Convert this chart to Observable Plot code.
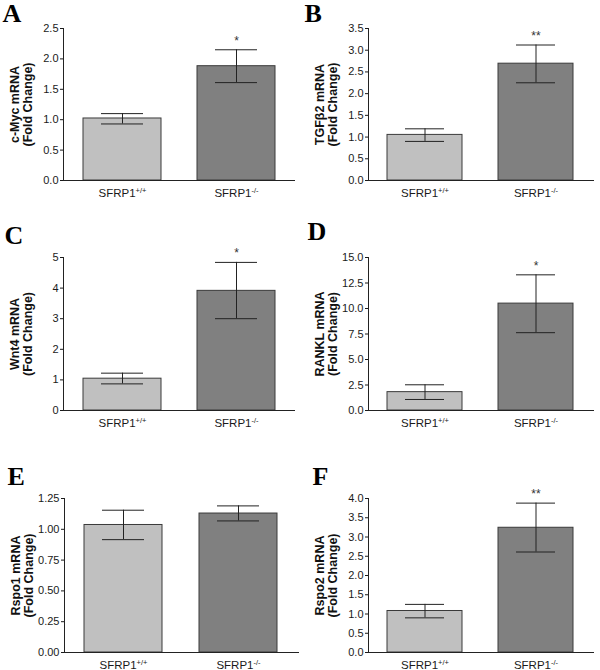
<!DOCTYPE html>
<html><head><meta charset="utf-8">
<script src="https://cdn.jsdelivr.net/npm/d3@7"></script>
<script src="https://cdn.jsdelivr.net/npm/@observablehq/plot@0.6"></script>
<style>
body{margin:0;background:#fff;}
#chart{position:relative;width:600px;height:670px;background:#fff;}
#chart > div{position:absolute;}
</style></head><body><div id="chart"></div>
<script>
// ---- data ----
const genotypes = ["SFRP1+/+", "SFRP1-/-"];
const panelLetters = ["A", "B", "C", "D", "E", "F"];
const genes = ["c-Myc", "TGFβ2", "Wnt4", "RANKL", "Rspo1", "Rspo2"];
const meanValues = [[1.02, 1.88], [1.05, 2.69], [1.04, 3.91], [1.80, 10.48], [1.035, 1.128], [1.078, 3.24]];
const errLower  = [[0.93, 1.61], [0.90, 2.25], [0.87, 3.00], [1.08, 7.63], [0.916, 1.068], [0.90, 2.61]];
const errUpper  = [[1.10, 2.15], [1.19, 3.12], [1.22, 4.84], [2.52, 13.3], [1.155, 1.19], [1.25, 3.88]];
const significance = [["", "*"], ["", "**"], ["", "*"], ["", "*"], ["", ""], ["", "**"]];
const yMax = [2.5, 3.5, 5, 15, 1.25, 4.0];
const yTicks = [
  [0, 0.5, 1.0, 1.5, 2.0, 2.5],
  [0, 0.5, 1.0, 1.5, 2.0, 2.5, 3.0, 3.5],
  [0, 1, 2, 3, 4, 5],
  [0, 2.5, 5.0, 7.5, 10.0, 12.5, 15.0],
  [0, 0.25, 0.50, 0.75, 1.00, 1.25],
  [0, 0.5, 1.0, 1.5, 2.0, 2.5, 3.0, 3.5, 4.0]
];
const yTickFormat = [".1f", ".1f", "d", ".1f", ".2f", ".1f"];
const barColors = ["#c0c0c0", "#808080"];

// ---- layout (page placement of each panel) ----
const layout = [
  {left: 0,   top: 0,   mL: 63, mT: 28, mB: 45, mR: 6, lx: 2,  lb: 21},
  {left: 300, top: 0,   mL: 68, mT: 28, mB: 45, mR: 7, lx: 4,  lb: 21},
  {left: 0,   top: 225, mL: 63, mT: 32, mB: 40, mR: 6, lx: 4,  lb: 18},
  {left: 300, top: 225, mL: 68, mT: 32, mB: 40, mR: 7, lx: 7,  lb: 14},
  {left: 0,   top: 445, mL: 64, mT: 53, mB: 18, mR: 2, lx: 7,  lb: 39},
  {left: 300, top: 445, mL: 68, mT: 53, mB: 18, mR: 7, lx: 12, lb: 39}
];

const chart = document.getElementById("chart");
const font = "Liberation Sans, Arial, Helvetica, sans-serif";

genes.forEach((gene, i) => {
  const L = layout[i];
  const rows = genotypes.map((g, j) => ({
    genotype: g, mean: meanValues[i][j], lo: errLower[i][j], hi: errUpper[i][j], sig: significance[i][j]
  }));
  const svg = Plot.plot({
    width: 300, height: 225,
    marginLeft: L.mL, marginTop: L.mT, marginBottom: L.mB, marginRight: L.mR,
    style: {fontFamily: font, color: "#1a1a1a", background: "transparent", overflow: "visible"},
    x: {domain: genotypes, paddingInner: 0.32, paddingOuter: 0.17, axis: null},
    y: {domain: [0, yMax[i]], axis: null},
    color: {domain: genotypes, range: barColors},
    marks: [
      Plot.barY(rows, {x: "genotype", y: "mean", fill: "genotype", stroke: "#3a3a3a", strokeWidth: 1}),
      Plot.ruleX(rows, {x: "genotype", y1: "lo", y2: "hi", stroke: "#222", strokeWidth: 1}),
      Plot.tickY(rows, {x: "genotype", y: "hi", stroke: "#222", strokeWidth: 1, insetLeft: 18, insetRight: 18}),
      Plot.tickY(rows, {x: "genotype", y: "lo", stroke: "#222", strokeWidth: 1, insetLeft: 18, insetRight: 18}),
      Plot.text(rows, {x: "genotype", y: "hi", text: "sig", dy: -9, fontSize: 12, fill: "#333"}),
      Plot.frame({anchor: "left", stroke: "#222"}),
      Plot.frame({anchor: "bottom", stroke: "#222"}),
      Plot.axisY({ticks: yTicks[i], tickFormat: d3.format(yTickFormat[i]), tickSize: 3, tickPadding: 2, fontSize: 11, label: null}),
      Plot.axisX({tickSize: 0, tickPadding: 8, fontSize: 11.5, label: null}),
      Plot.text([gene], {text: d => `${d} mRNA\n(Fold Change)`, frameAnchor: "left", rotate: -90,
        textAnchor: "middle", lineAnchor: "middle",
        dx: -42, fontSize: 12.5, fontWeight: "bold", lineHeight: 1.04, fill: "#111"}),
      Plot.text([panelLetters[i]], {text: d => d, frameAnchor: "top-left", textAnchor: "start", lineAnchor: "bottom",
        dx: L.lx - L.mL, dy: L.lb - L.mT, fontFamily: "Liberation Serif, Times New Roman, serif",
        fontWeight: "bold", fontSize: 26, fill: "#000"})
    ]
  });
  // superscript genotype suffixes in x tick labels
  d3.select(svg).selectAll("[aria-label='x-axis tick label'] text").each(function() {
    const t = d3.select(this);
    const s = t.text();
    const m = s.match(/^(SFRP1)(.*)$/);
    if (m) {
      t.text(null);
      t.append("tspan").text(m[1]);
      t.append("tspan").attr("dy", "-0.45em").attr("font-size", "7.5px").text(m[2]);
    }
  });
  const div = document.createElement("div");
  div.style.left = L.left + "px";
  div.style.top = L.top + "px";
  div.appendChild(svg);
  chart.appendChild(div);
});
</script></body></html>
